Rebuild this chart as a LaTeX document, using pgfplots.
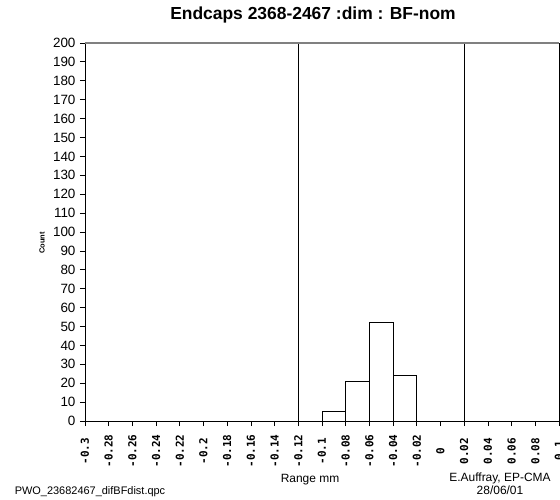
\documentclass[border=0pt]{standalone}
\usepackage{fontspec}
\setmainfont{Liberation Sans}
\newfontfamily\monob{DejaVu Sans Mono Bold}
\usepackage{pgfplots}
\pgfplotsset{compat=1.18}
\begin{document}
\begin{tikzpicture}
\useasboundingbox (-85bp,-79bp) rectangle (475bp,421bp);
\begin{axis}[
  at={(0,0)}, anchor=south west,
  scale only axis,
  width=474bp, height=378bp,
  xmin=-0.3, xmax=0.1,
  ymin=0, ymax=200,
  axis line style={black, line width=0.8pt},
  xtick={-0.3,-0.28,-0.26,-0.24,-0.22,-0.2,-0.18,-0.16,-0.14,-0.12,-0.1,-0.08,-0.06,-0.04,-0.02,0,0.02,0.04,0.06,0.08,0.1},
  xticklabels={-0.3,-0.28,-0.26,-0.24,-0.22,-0.2,-0.18,-0.16,-0.14,-0.12,-0.1,-0.08,-0.06,-0.04,-0.02,0,0.02,0.04,0.06,0.08,0.1},
  ytick={0,10,...,200},
  tick align=outside,
  tick pos=left,
  major tick length=5bp,
  tick style={black, line width=0.8pt},
  /pgf/number format/assume math mode=true,
  y tick label style={font=\fontsize{13.5}{15}\selectfont, xshift=-1bp},
  x tick label style={font=\fontsize{11}{12}\selectfont\monob, rotate=90, anchor=center, xshift=-25bp},
  clip=false,
]
\addplot[ybar interval, fill=white, draw=black, line width=0.9pt]
  coordinates {(-0.1,5) (-0.08,21) (-0.06,52) (-0.04,24) (-0.02,24)};
\addplot[black, line width=0.9pt] coordinates {(-0.12,0) (-0.12,200)};
\addplot[black, line width=0.9pt] coordinates {(0.02,0) (0.02,200)};
\draw[gray, line width=1.2pt] (axis cs:-0.3,200) -- (axis cs:0.1,200);
\end{axis}
\node[font=\fontsize{17.5}{20}\selectfont\bfseries] at (228bp,406bp) {Endcaps 2368-2467 :dim : BF-nom};
\node[font=\fontsize{7.5}{8}\selectfont\bfseries, rotate=90] at (-43bp,178bp) {Count};
\node[font=\fontsize{12}{14}\selectfont] at (225bp,-59bp) {Range mm};
\node[font=\fontsize{12}{13}\selectfont, align=center] at (415bp,-63bp) {E.Auffray, EP-CMA\\28/06/01};
\node[font=\fontsize{11}{13}\selectfont] at (5bp,-71bp) {PWO\_23682467\_difBFdist.qpc};
\end{tikzpicture}
\end{document}
